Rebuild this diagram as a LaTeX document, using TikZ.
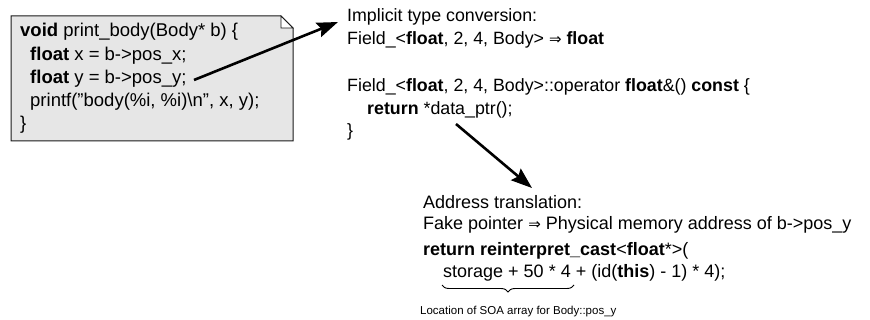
\documentclass[tikz,border=0pt]{standalone}
\usepackage{fontspec}
\setmainfont{Liberation Sans}
\newfontfamily\arrowfont{DejaVu Sans}
\usepackage{tikz}
\usetikzlibrary{arrows.meta,positioning,calc,decorations.pathreplacing}
\definecolor{noteFill}{HTML}{E6E6E6}
\definecolor{noteInk}{HTML}{1A1A1A}
\newcommand{\dblto}{{\arrowfont\fontsize{15}{15}\selectfont ⇒}}

\begin{document}
\begin{tikzpicture}[
  x=1pt, y=-1pt,
  font=\fontsize{17.8}{23}\selectfont,
  code/.style={anchor=base west,align=left,inner sep=0pt},
  note/.style={fill=noteFill,draw=noteInk,line width=1pt},
  arr/.style={-{Stealth[length=21pt,width=15pt,inset=3pt]},line width=2.6pt}
]
\useasboundingbox (0,0) rectangle (870,320);
% note with folded corner
\filldraw[note] (11,16) -- (281,16) -- (293,28) -- (293,141) -- (11,141) -- cycle;
\filldraw[fill=white,draw=noteInk,line width=0.8pt] (281,16) -- (281,28) -- (293,28) -- cycle;
% base west of a multi-line node = baseline of its last line
\node[code,font=\fontsize{18.5}{23.3}\selectfont] (body) at (20,130)
  {\textbf{void} print\_body(Body* b) \{\\
   \hspace{10pt}\textbf{float} x = b->pos\_x;\\
   \hspace{10pt}\textbf{float} y = b->pos\_y;\\
   \hspace{10pt}printf("body(\%i, \%i)\textbackslash n", x, y);\\
   \}};
\node[code] (conv) at (347,45)
  {Implicit type conversion:\\
   Field\_<\textbf{float}, 2, 4, Body> \dblto{} \textbf{float}};
\node[code,font=\fontsize{17.8}{22.5}\selectfont] (opfn) at (347,137)
  {Field\_<\textbf{float}, 2, 4, Body>::operator \textbf{float}\&() \textbf{const} \{\\
   \hspace{20pt}\textbf{return} *data\_ptr();\\
   \}};
\node[code,font=\fontsize{18}{21.5}\selectfont] (xlate) at (423,230)
  {Address translation:\\
   Fake pointer \dblto{} Physical memory address of b->pos\_y};
\node[code,font=\fontsize{18}{22}\selectfont] (cast) at (423,278)
  {\textbf{return reinterpret\_cast}<\textbf{float}*>(\\
   \hspace{20pt}storage + 50 * 4 + (id(\textbf{this}) - 1) * 4);};
\node[code,font=\fontsize{11.5}{14}\selectfont] (soa) at (420,315)
  {Location of SOA array for Body::pos\_y};
\coordinate (posy) at (194,80);
\coordinate (convtip) at (338,22);
\coordinate (dataptr) at (456,124);
\coordinate (xlatetip) at (532,188);
\draw[arr] (posy) -- (convtip);
\draw[arr] (dataptr) -- (xlatetip);
\draw[line width=0.9pt,decorate,decoration={brace,mirror,amplitude=7pt}]
  (442,285) -- (574,285);
\end{tikzpicture}
\end{document}
